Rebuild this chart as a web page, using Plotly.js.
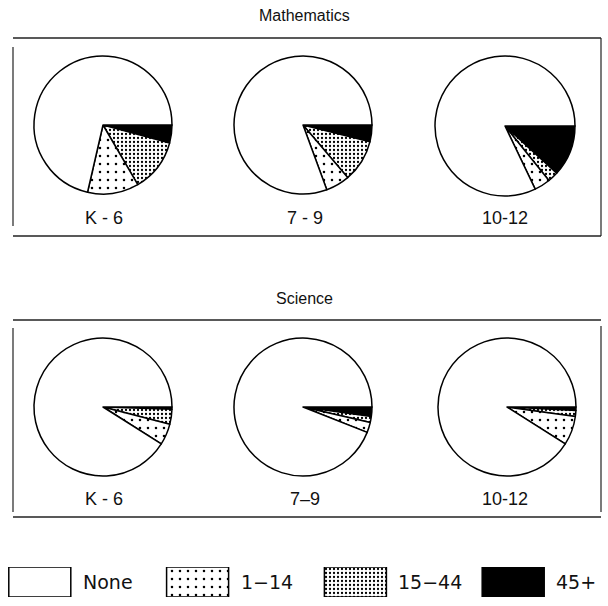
<!DOCTYPE html>
<html>
<head>
<meta charset="utf-8">
<script src="https://cdn.plot.ly/plotly-3.0.1.min.js"></script>
<style>html,body{margin:0;padding:0;background:#fff;}#chart{width:608px;height:606px;}</style>
</head>
<body>
<div id="chart"></div>
<script>
// Categories (None, 1-14, 15-44, 45+)
const categories = ["None", "1\u221214", "15\u221244", "45+"];
const grades = ["K - 6", "7 - 9", "10-12"];
const gradesSci = ["K - 6", "7\u20139", "10-12"];
const subjects = ["Mathematics", "Science"];

// Percent of classes
const mathK6   = [71.4, 12.0, 12.4, 4.2];
const math79   = [80.6, 5.6, 9.9, 3.9];
const math1012 = [82.1, 3.7, 2.4, 11.8];
const sciK6    = [91.0, 5.0, 3.5, 0.5];
const sci79    = [94.0, 2.4, 1.4, 2.2];
const sci1012  = [91.0, 6.8, 1.4, 0.8];

const legendValues = [1, 1, 1, 1];

const W = 608, H = 606;
const fills = ["white", "white", "white", "black"];
const patShape = ["", ".", ".", ""];
const patSize = [8, 8, 4, 8];
const patSolid = [0.01, 0.08, 0.25, 0.01];

function pxX(p) { return p / W; }
function pxY(p) { return 1 - p / H; }
function rev(a) { return a.slice().reverse(); }

function pieTrace(vals, cx, cy, r) {
  return {
    type: "pie",
    values: rev(vals),
    labels: rev(categories),
    sort: false,
    direction: "clockwise",
    rotation: 90,
    textinfo: "none",
    hoverinfo: "label+percent",
    showlegend: false,
    marker: {
      colors: rev(fills),
      line: { color: "black", width: 1.5 },
      pattern: { shape: rev(patShape), size: rev(patSize), solidity: rev(patSolid), fgcolor: "black", bgcolor: "white", fillmode: "replace" }
    },
    domain: { x: [pxX(cx - r), pxX(cx + r)], y: [pxY(cy + r), pxY(cy - r)] }
  };
}

const data = [
  pieTrace(mathK6, 103, 125, 69),
  pieTrace(math79, 303, 125, 69),
  pieTrace(math1012, 505, 126, 70),
  pieTrace(sciK6, 103, 407, 69),
  pieTrace(sci79, 303, 407, 69),
  pieTrace(sci1012, 507, 407, 69)
];

categories.forEach((c, i) => {
  const m = {
    color: fills[i],
    line: { color: "black", width: 1.5 }
  };
  if (patShape[i]) m.pattern = { shape: patShape[i], size: patSize[i], solidity: patSolid[i], fgcolor: "black", bgcolor: "white", fillmode: "replace" };
  data.push({
    type: "bar",
    x: [i],
    y: [legendValues[i]],
    width: 0.393,
    name: c,
    xaxis: "x", yaxis: "y",
    showlegend: false,
    hoverinfo: "skip",
    marker: m
  });
});

const line = { color: "#222", width: 1.6 };
const thin = { color: "#222", width: 1.2 };
const shapes = [
  // Mathematics frame
  { type: "line", xref: "paper", yref: "paper", x0: pxX(13), x1: pxX(601), y0: pxY(38), y1: pxY(38), line },
  { type: "line", xref: "paper", yref: "paper", x0: pxX(13), x1: pxX(601), y0: pxY(236), y1: pxY(236), line },
  { type: "line", xref: "paper", yref: "paper", x0: pxX(601), x1: pxX(601), y0: pxY(38), y1: pxY(236), line: thin },
  { type: "line", xref: "paper", yref: "paper", x0: pxX(13), x1: pxX(13), y0: pxY(47), y1: pxY(226), line: thin },
  // Science frame
  { type: "line", xref: "paper", yref: "paper", x0: pxX(13), x1: pxX(601), y0: pxY(320), y1: pxY(320), line },
  { type: "line", xref: "paper", yref: "paper", x0: pxX(13), x1: pxX(601), y0: pxY(517), y1: pxY(517), line },
  { type: "line", xref: "paper", yref: "paper", x0: pxX(601), x1: pxX(601), y0: pxY(326), y1: pxY(512), line: thin },
  { type: "line", xref: "paper", yref: "paper", x0: pxX(13), x1: pxX(13), y0: pxY(328), y1: pxY(512), line: thin }
];

const tfont = { family: "Liberation Sans, Arial, sans-serif", size: 16, color: "#111" };
const gfont = { family: "Liberation Sans, Arial, sans-serif", size: 18, color: "#111" };
const lfont = { family: "DejaVu Sans, sans-serif", size: 19, color: "#111" };

const annotations = [
  { text: subjects[0], xref: "paper", yref: "paper", x: pxX(304), y: pxY(15), showarrow: false, font: tfont, xanchor: "center", yanchor: "middle" },
  { text: subjects[1], xref: "paper", yref: "paper", x: pxX(304), y: pxY(298), showarrow: false, font: tfont, xanchor: "center", yanchor: "middle" }
];
const gx = [104, 305, 505];
grades.forEach((g, i) => annotations.push({ text: g, xref: "paper", yref: "paper", x: pxX(gx[i]), y: pxY(218), showarrow: false, font: gfont, xanchor: "center", yanchor: "middle" }));
gradesSci.forEach((g, i) => annotations.push({ text: g, xref: "paper", yref: "paper", x: pxX(gx[i]), y: pxY(499), showarrow: false, font: gfont, xanchor: "center", yanchor: "middle" }));
categories.forEach((c, i) => annotations.push({ text: c, xref: "x", yref: "paper", x: i + 0.26, y: pxY(582), showarrow: false, font: lfont, xanchor: "left", yanchor: "middle" }));

const layout = {
  width: W, height: H,
  margin: { l: 0, r: 0, t: 0, b: 0 },
  paper_bgcolor: "white", plot_bgcolor: "white",
  showlegend: false,
  xaxis: { domain: [0, 1], range: [-0.2522, 3.6008], visible: false, fixedrange: true },
  yaxis: { domain: [pxY(597), pxY(567)], range: [0, 1], visible: false, fixedrange: true },
  shapes, annotations
};

Plotly.newPlot("chart", data, layout, { staticPlot: true });
</script>
</body>
</html>
